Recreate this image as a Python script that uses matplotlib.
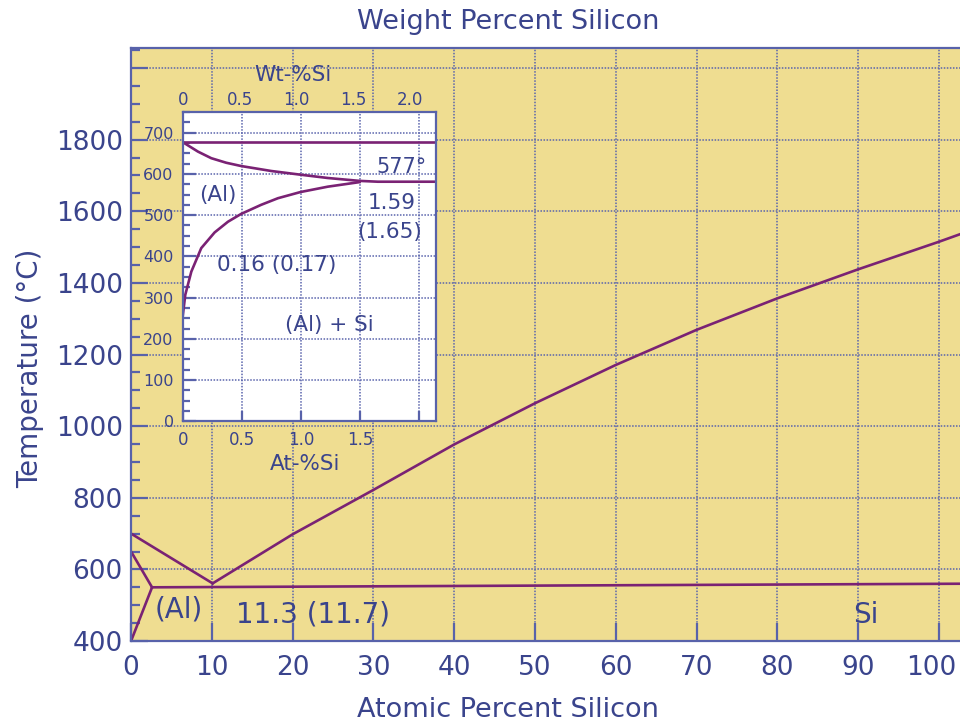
import matplotlib.pyplot as plt
from matplotlib.ticker import MultipleLocator, FixedLocator
from matplotlib.transforms import ScaledTranslation

# Al-Si diagram, atomic percent Si vs temperature
liq_al_x = [0, 10.1]
liq_al_t = [700, 561]
liq_si_x = [10.1, 20, 30, 40, 50, 60, 70, 80, 90, 100, 102.6]
liq_si_t = [561, 698, 822, 949, 1064, 1171, 1269, 1357, 1438, 1515, 1536]
solidus_x = [0, 2.6]
solidus_t = [650, 550]
solvus_x = [0, 2.6]
solvus_t = [400, 550]
eutectic_x = [2.6, 102.6]
eutectic_t = [550, 560]

# Al-rich corner, blown up
melt_x = [0, 2.14]
melt_t = [677, 677]
upper_x = [0, 0.129, 0.242, 0.368, 0.495, 0.749, 0.997, 1.228, 1.496, 1.651, 2.14]
upper_t = [677, 654, 638, 627, 619, 607, 598, 590, 583, 581, 581]
lower_x = [0, 0.022, 0.073, 0.157, 0.270, 0.383, 0.495, 0.664, 0.806, 0.997, 1.228, 1.496]
lower_t = [254, 307, 363, 420, 458, 484, 503, 525, 541, 556, 569, 580]

main_xticks = list(range(0, 101, 10))
main_yticks = list(range(400, 2001, 200))
main_ylabels = [str(t) for t in main_yticks[:-1]] + ['']
inset_xticks = [0, 0.5, 1.0, 1.5, 2.0]
inset_xlabels = ['0', '0.5', '1.0', '1.5', '']
inset_wt_ticks = [0, 0.5, 1.0, 1.5, 2.0]
inset_wt_labels = ['0', '0.5', '1.0', '1.5', '2.0']
inset_yticks = list(range(0, 701, 100))

yellow = '#efdd91'
navy = '#3a448c'
frame = '#5862aa'
grid_c = '#5a64ac'
purple = '#7a2274'

plt.rcParams['font.family'] = ['DejaVu Sans']

fig = plt.figure(figsize=(9.6, 7.24), dpi=100)
ax = fig.add_axes([0.1365, 0.1146, 0.8635, 0.8191])
ax.set_facecolor(yellow)
ax.set_xlim(0, 102.6)
ax.set_ylim(400, 2056)

for s in ['left', 'top', 'bottom']:
    ax.spines[s].set_color(frame)
    ax.spines[s].set_linewidth(1.6)
ax.spines['right'].set_visible(False)

ax.xaxis.set_major_locator(FixedLocator(main_xticks))
ax.yaxis.set_major_locator(FixedLocator(main_yticks))
ax.set_yticklabels(main_ylabels)
ax.yaxis.set_minor_locator(MultipleLocator(50))
ax.tick_params(axis='both', which='both', direction='in', color=frame,
               labelcolor=navy, labelsize=19, width=1.6)
ax.tick_params(axis='y', which='major', length=12, pad=6)
ax.tick_params(axis='y', which='minor', length=6.5)
ax.tick_params(axis='x', which='major', length=13, pad=10)
ax.grid(True, which='major', color=grid_c, linestyle=(0, (1, 1)), linewidth=1.1)

# pull the "100" label in from the right edge
last = ax.xaxis.get_major_ticks()[-1].label1
last.set_transform(last.get_transform() + ScaledTranslation(-0.08, 0, fig.dpi_scale_trans))

lw = 1.9
ax.plot(liq_al_x, liq_al_t, color=purple, lw=lw)
ax.plot(liq_si_x, liq_si_t, color=purple, lw=lw)
ax.plot(solidus_x, solidus_t, color=purple, lw=lw)
ax.plot(solvus_x, solvus_t, color=purple, lw=lw)
ax.plot(eutectic_x, eutectic_t, color=purple, lw=lw)

ax.text(5.94, 487, '(Al)', fontsize=20, color=navy, ha='center', va='center')
ax.text(22.5, 473, '11.3 (11.7)', fontsize=20, color=navy, ha='center', va='center')
ax.text(91.0, 473, 'Si', fontsize=20, color=navy, ha='center', va='center')

ax.set_ylabel('Temperature (°C)', fontsize=20, color=navy, va='center')
ax.yaxis.set_label_coords(-0.122, 0.46)
ax.set_xlabel('Atomic Percent Silicon', fontsize=19.5, color=navy, va='center')
ax.xaxis.set_label_coords(0.455, -0.116)
ax.set_title('Weight Percent Silicon', fontsize=19.5, color=navy,
             x=0.455, y=1.044, va='center', pad=0)

# inset: solubility of Si in (Al)
ins = fig.add_axes([0.1903, 0.418, 0.2635, 0.4273])
ins.set_facecolor('white')
ins.set_xlim(0, 2.14)
ins.set_ylim(0, 750)
for s in ins.spines.values():
    s.set_color(frame)
    s.set_linewidth(1.6)

ins.xaxis.set_major_locator(FixedLocator(inset_xticks))
ins.set_xticklabels(inset_xlabels)
ins.yaxis.set_major_locator(FixedLocator(inset_yticks))
ins.yaxis.set_minor_locator(MultipleLocator(25))
ins.tick_params(axis='both', which='both', direction='in', color=frame,
                labelcolor=navy, width=1.6)
ins.tick_params(axis='y', which='major', length=9.5, labelsize=11.5, pad=6.5)
ins.tick_params(axis='y', which='minor', length=5)
ins.tick_params(axis='x', which='major', length=7, labelsize=12, pad=7)
ins.grid(True, which='major', color=grid_c, linestyle=(0, (1, 1)), linewidth=1.1)

sec = ins.secondary_xaxis('top', functions=(lambda w: w * 1.04, lambda a: a / 1.04))
sec.set_xticks(inset_wt_ticks)
sec.set_xticklabels(inset_wt_labels)
sec.tick_params(length=0, labelsize=12, labelcolor=navy, pad=2)
sec.spines['top'].set_visible(False)

ins.plot(melt_x, melt_t, color=purple, lw=lw)
ins.plot(upper_x, upper_t, color=purple, lw=lw)
ins.plot(lower_x, lower_t, color=purple, lw=lw)

ins.text(1.85, 617, '577°', fontsize=15, color=navy, ha='center', va='center')
ins.text(1.767, 530, '1.59', fontsize=15.5, color=navy, ha='center', va='center')
ins.text(1.752, 460, '(1.65)', fontsize=15.5, color=navy, ha='center', va='center')
ins.text(0.30, 549, '(Al)', fontsize=15.5, color=navy, ha='center', va='center')
ins.text(0.795, 379, '0.16 (0.17)', fontsize=15.5, color=navy, ha='center', va='center')
ins.text(1.239, 234, '(Al) + Si', fontsize=15.5, color=navy, ha='center', va='center')

ins.set_xlabel('At-%Si', fontsize=15.5, color=navy, va='center')
ins.xaxis.set_label_coords(0.483, -0.138)
ins.text(0.436, 1.12, 'Wt-%Si', fontsize=15.5, color=navy, ha='center', va='center',
         transform=ins.transAxes)

fig.savefig('out.png', dpi=100)
